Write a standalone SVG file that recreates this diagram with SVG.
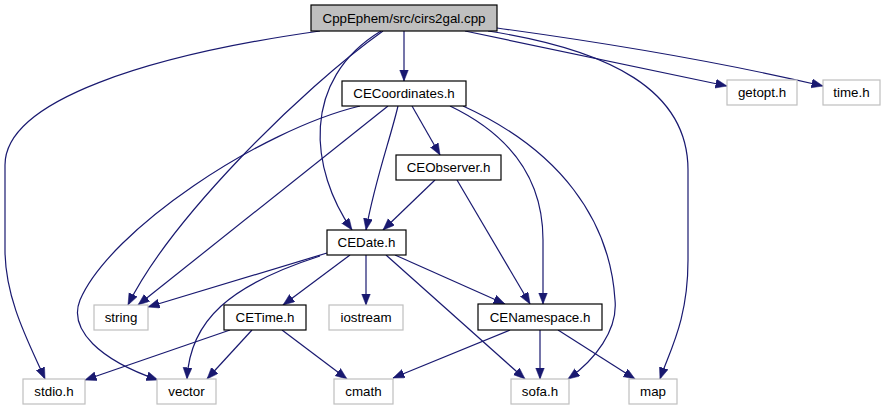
<svg xmlns="http://www.w3.org/2000/svg" width="887" height="411" viewBox="0 0 887 411">
<style>
.bg{fill:#ffffff}
.n rect{fill:#ffffff;stroke:#000000;stroke-width:1.2}
.n.sys rect{stroke:#bfbfbf}
.n.root rect{fill:#bfbfbf}
.n text{font-family:"Liberation Sans",Arial,sans-serif;font-size:13.33px;fill:#000000;text-anchor:middle}
.e path{fill:none;stroke:#191970;stroke-width:1.2;marker-end:url(#ah)}
</style>
<defs>
<marker id="ah" markerUnits="userSpaceOnUse" markerWidth="12" markerHeight="10" refX="11.5" refY="4.5" orient="auto">
<path d="M0,0 L11.5,4.5 L0,9 z" fill="#191970" stroke="#191970" stroke-width="0.5"/>
</marker>
</defs>
<rect class="bg" width="887" height="411"/>
<g id="edges" class="e">
<path d="M404,31 L404,81"/>
<path d="M320,31 C150,55 5,100 5,165 L5,250 C5,300 30,345 45,379"/>
<path d="M383,31 C300,90 170,220 128,305"/>
<path d="M381,31 C300,80 310,170 352,230"/>
<path d="M465,31 L727,86"/>
<path d="M497,28 C600,42 720,62 823,86"/>
<path d="M488,31 C610,50 688,90 688,170 L688,260 C688,320 670,350 660,379"/>
<path d="M412,106 L440,155"/>
<path d="M398,106 C390,140 375,180 366,230"/>
<path d="M388,106 L138,305"/>
<path d="M360,106 C260,130 110,230 80,300 C68,330 100,360 158,380"/>
<path d="M450,106 C500,130 543,170 543,240 L543,304"/>
<path d="M463,106 C560,150 610,220 615,300 C618,330 595,360 568,379"/>
<path d="M435,180 L383,230"/>
<path d="M457,180 L530,304"/>
<path d="M327,253 L148,307"/>
<path d="M320,256 C230,285 190,320 187,379"/>
<path d="M350,255 L283,305"/>
<path d="M366,255 L366,305"/>
<path d="M395,255 L505,304"/>
<path d="M386,255 L525,379"/>
<path d="M230,330 L85,380"/>
<path d="M252,330 L207,379"/>
<path d="M282,330 L347,379"/>
<path d="M510,330 L393,378"/>
<path d="M540,330 L540,379"/>
<path d="M558,330 L635,379"/>
</g>
<g id="root" class="n root"><rect x="311" y="5" width="186" height="26"/><text x="404" y="22.5">CppEphem/src/cirs2gal.cpp</text></g>
<g id="cecoordinates" class="n"><rect x="342" y="81" width="124" height="25"/><text x="404" y="98">CECoordinates.h</text></g>
<g id="getopt" class="n sys"><rect x="727" y="80" width="70" height="25"/><text x="762" y="97">getopt.h</text></g>
<g id="time" class="n sys"><rect x="823" y="80" width="57" height="25"/><text x="851.5" y="97">time.h</text></g>
<g id="ceobserver" class="n"><rect x="396" y="155" width="105" height="25"/><text x="448.5" y="172">CEObserver.h</text></g>
<g id="cedate" class="n"><rect x="327" y="230" width="79" height="25"/><text x="366.5" y="247">CEDate.h</text></g>
<g id="string" class="n sys"><rect x="94" y="305" width="54" height="25"/><text x="121" y="322">string</text></g>
<g id="cetime" class="n"><rect x="224" y="305" width="82" height="25"/><text x="265" y="322">CETime.h</text></g>
<g id="iostream" class="n sys"><rect x="329" y="305" width="74" height="25"/><text x="366" y="322">iostream</text></g>
<g id="cenamespace" class="n"><rect x="478" y="304" width="124" height="26"/><text x="540" y="321.5">CENamespace.h</text></g>
<g id="stdio" class="n sys"><rect x="23" y="379" width="62" height="25"/><text x="54" y="396">stdio.h</text></g>
<g id="vector" class="n sys"><rect x="157" y="379" width="59" height="25"/><text x="186.5" y="396">vector</text></g>
<g id="cmath" class="n sys"><rect x="334" y="379" width="59" height="25"/><text x="363.5" y="396">cmath</text></g>
<g id="sofa" class="n sys"><rect x="511" y="379" width="58" height="25"/><text x="540" y="396">sofa.h</text></g>
<g id="map" class="n sys"><rect x="629" y="379" width="48" height="25"/><text x="653" y="396">map</text></g>
</svg>
